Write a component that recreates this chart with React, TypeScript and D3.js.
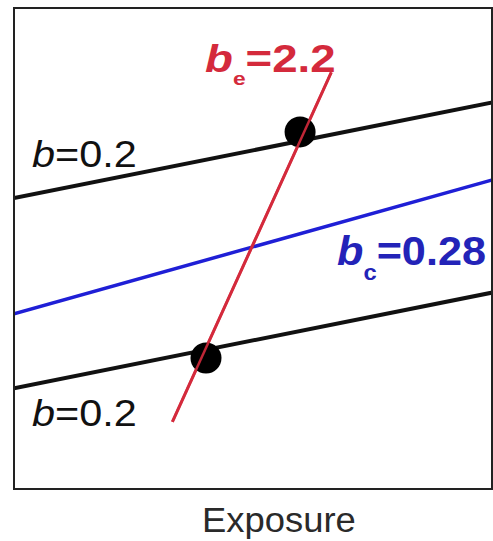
import React from "react";
import * as d3 from "d3";

// Regression lines: y = intercept + slope * x (arbitrary exposure/outcome units)
const lineNames = ["upper", "common", "lower", "ecological"];
const lineIntercepts = [6.06, 3.65, 2.1, -5.86];
const lineSlopes = [0.2, 0.28, 0.2, 2.2];
const lineColors = ["#111111", "#1f1fd6", "#111111", "#d42a3c"];
const lineWidths = [4, 3.5, 4, 3];
// x-range covered by each line
const lineXStart = [0, 0, 0, 3.3];
const lineXEnd = [10, 10, 10, 6.61];

// Group means (exposure, outcome)
const meanX = [5.96, 4.0];
const meanY = [7.44, 2.73];

const xDomain = [0, 10];
const yDomain = [0, 10];

const W = 493;
const H = 541;
const frame = { left: 14, top: 8, right: 492, bottom: 489 };

const font = "'Liberation Sans', Arial, Helvetica, sans-serif";

// horizontal stretch about a left anchor
const stretch = (x0: number, s: number) =>
  `translate(${x0},0) scale(${s},1) translate(${-x0},0)`;

export default function App() {
  const x = d3.scaleLinear().domain(xDomain).range([frame.left, frame.left + 480]);
  const y = d3.scaleLinear().domain(yDomain).range([frame.bottom, frame.bottom - 480]);

  const gen = d3
    .line<[number, number]>()
    .x((d) => x(d[0]))
    .y((d) => y(d[1]));

  const paths = lineNames.map((name, i) => {
    const pts: [number, number][] = [lineXStart[i], lineXEnd[i]].map(
      (xv) => [xv, lineIntercepts[i] + lineSlopes[i] * xv] as [number, number]
    );
    return { name, d: gen(pts) as string, color: lineColors[i], width: lineWidths[i] };
  });

  const bLabelX = x(0.375);
  const eLabelX = x(3.98);
  const cLabelX = x(6.73);

  return (
    <svg
      width={W}
      height={H}
      style={{ position: "absolute", left: 0, top: 0, background: "#fff" }}
    >
      <defs>
        <clipPath id="plot-clip">
          <rect
            x={frame.left}
            y={frame.top}
            width={frame.right - frame.left}
            height={frame.bottom - frame.top}
          />
        </clipPath>
      </defs>
      <g clipPath="url(#plot-clip)">
        {paths.map((p) => (
          <path key={p.name} d={p.d} stroke={p.color} strokeWidth={p.width} fill="none" />
        ))}
      </g>
      {meanX.map((mx, i) => (
        <circle key={i} cx={x(mx)} cy={y(meanY[i])} r={15.5} fill="#000" />
      ))}
      {/* ecological line stays visible across the group-mean dots */}
      <path d={paths[3].d} stroke={paths[3].color} strokeWidth={2.5} fill="none" opacity={0.9} />

      <rect
        x={frame.left}
        y={frame.top}
        width={frame.right - frame.left}
        height={frame.bottom - frame.top}
        fill="none"
        stroke="#222"
        strokeWidth={2}
      />

      <g fontFamily={font}>
        <text x={bLabelX} y={y(6.71)} fontSize={37} fill="#111" transform={stretch(bLabelX, 1.12)}>
          <tspan fontStyle="italic">b</tspan>=0.2
        </text>
        <text x={bLabelX} y={y(1.31)} fontSize={37} fill="#111" transform={stretch(bLabelX, 1.12)}>
          <tspan fontStyle="italic">b</tspan>=0.2
        </text>
        <text
          x={eLabelX}
          y={y(8.69)}
          fontSize={38}
          fontWeight="bold"
          fill="#d42a3c"
          transform={stretch(eLabelX, 1.2)}
        >
          <tspan fontStyle="italic">b</tspan>
          <tspan fontSize={19} dy={13}>e</tspan>
          <tspan dy={-13}>=2.2</tspan>
        </text>
        <text
          x={cLabelX}
          y={y(4.67)}
          fontSize={40}
          fontWeight="bold"
          fill="#2323b8"
          transform={stretch(cLabelX, 1.08)}
        >
          <tspan fontStyle="italic">b</tspan>
          <tspan fontSize={22} dy={15}>c</tspan>
          <tspan dy={-15}>=0.28</tspan>
        </text>
        <text
          x={x(5.52)}
          y={532}
          fontSize={35}
          fill="#2a2a2a"
          textAnchor="middle"
          transform={stretch(x(5.52), 1.04)}
        >
          Exposure
        </text>
      </g>
    </svg>
  );
}
